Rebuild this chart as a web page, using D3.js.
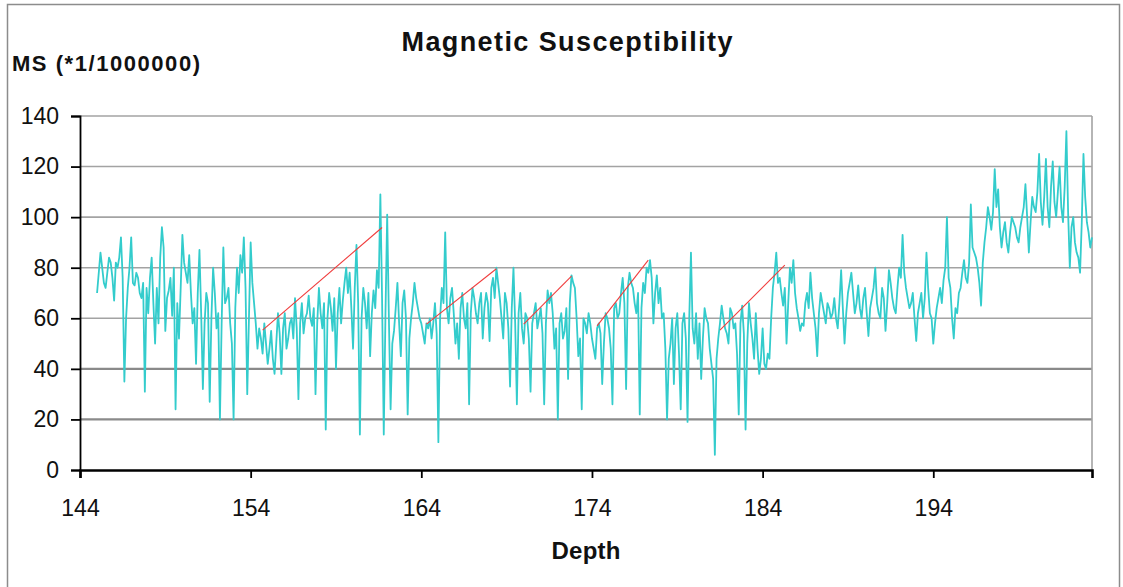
<!DOCTYPE html>
<html>
<head>
<meta charset="utf-8">
<script src="https://cdn.jsdelivr.net/npm/d3@7"></script>
<style>
  html, body { margin: 0; padding: 0; background: #fff; }
  svg { display: block; font-family: "Liberation Sans", Arial, sans-serif; }
</style>
</head>
<body>
<svg id="chart" width="1123" height="587"></svg>
<script>
// Magnetic susceptibility log, sampled every 0.1 depth units from 145.0
const depthStart = 145.0;
const depthStep = 0.1;
const ms = [
  // 145.0 – 154.5
  70,78, 86,80, 74,72, 78,84, 82,76, 67,82, 80,84, 92,76, 35,60, 72,80,
  92,74, 73,78, 76,70, 68,74, 31,72, 62,76, 84,66, 50,72, 58,84, 96,88,
  55,68, 71,76, 61,80, 24,66, 52,72, 93,82, 78,74, 85,70, 58,64, 42,70,
  87,62, 32,58, 70,66, 27,60, 80,70, 56,62, 20,58, 88,66, 68,72, 58,50,
  20,64, 80,70, 85,78, 92,72, 30,60, 90,74, 66,58, 48,56,
  // 154.6 – 164.3
  52,46, 58,50, 42,48, 55,44, 38,50, 62,54, 38,56, 62,48, 52,58, 60,52,
  68,56, 28,58, 66,54, 60,62, 69,60, 57,64, 30,58, 72,62, 56,66, 16,60,
  70,64, 55,68, 40,62, 72,58, 67,74, 80,70, 78,64, 48,72, 89,66, 14,60,
  72,66, 56,70, 45,62, 71,64, 79,72, 109,68, 14,62, 101,60, 24,50, 55,64,
  74,58, 45,66, 71,60, 22,52, 60,66, 74,68, 64,60, 58,54, 50,58,
  // 164.4 – 174.3
  56,60, 52,58, 66,54, 11,60, 72,66, 94,64, 58,68, 72,62, 50,58, 44,64,
  70,60, 56,66, 26,62, 72,68, 62,58, 66,70, 52,64, 70,66, 51,72, 76,68,
  80,74, 68,60, 52,70, 66,56, 33,64, 80,58, 26,62, 70,56, 50,62, 60,52,
  31,58, 62,66, 56,60, 64,54, 26,58, 71,66, 70,62, 48,56, 20,58, 62,52,
  55,64, 36,66, 77,74, 72,60, 45,52, 24,60, 58,54, 62,58, 52,48, 44,56,
  // 174.4 – 184.3
  58,54, 34,50, 62,60, 56,48, 26,64, 66,60, 62,70, 76,66, 32,72, 78,74,
  72,66, 62,70, 22,64, 74,70, 80,78, 83,76, 58,70, 77,66, 72,60, 62,48,
  20,44, 50,60, 34,56, 62,46, 24,58, 62,52, 19,60, 86,56, 50,62, 44,58,
  36,52, 64,60, 58,48, 42,36, 6,44, 52,58, 65,60, 56,54, 50,64, 62,56,
  58,46, 22,58, 65,54, 16,50, 66,58, 52,44, 62,48, 38,44, 56,42, 40,46,
  // 184.4 – 194.3
  44,60, 72,78, 86,74, 76,70, 65,72, 50,66, 80,74, 83,70, 64,60, 55,58,
  57,66, 70,64, 78,68, 62,56, 45,62, 70,66, 62,58, 66,64, 60,62, 68,60,
  56,66, 79,64, 50,62, 70,74, 78,70, 62,66, 73,64, 60,68, 72,62, 53,64,
  68,72, 80,66, 62,60, 72,68, 55,66, 79,74, 68,64, 62,72, 80,76, 93,78,
  72,68, 64,66, 70,60, 51,62, 66,70, 60,68, 86,72, 62,60, 50,58, 64,68,
  // 194.4 – 203.3
  72,66, 75,80, 100,76, 72,60, 52,64, 62,70, 72,78, 83,76, 74,82, 105,88,
  86,84, 80,74, 65,82, 90,96, 104,100, 95,102, 119,104, 111,96, 88,94, 98,90,
  86,94, 100,98, 96,92, 90,96, 100,104, 113,100, 86,98, 108,104, 102,110, 125,106,
  97,108, 123,104, 96,112, 122,106, 100,110, 120,104, 98,112, 134,102, 80,96, 100,90,
  86,84, 78,98, 125,108, 98,94, 88,92
];

// Rising trend segments drawn over the log
const trendStartDepth = [154.7, 164.3, 170.0, 174.3, 181.5];
const trendStartMS    = [55.3, 57.7, 57.7, 57.0, 55.3];
const trendEndDepth   = [161.7, 168.4, 172.8, 177.3, 185.3];
const trendEndMS      = [95.9, 79.6, 76.7, 83.0, 81.0];

const xTicks = [144, 154, 164, 174, 184, 194];
const yTicks = [0, 20, 40, 60, 80, 100, 120, 140];

const titleText = "Magnetic Susceptibility";
const yTitle = "MS (*1/1000000)";
const xTitle = "Depth";

const svg = d3.select("#chart");

const plot = { left: 80, right: 1092, top: 116, bottom: 470 };

const x = d3.scaleLinear().domain([144, 203.3]).range([plot.left, plot.right]);
const y = d3.scaleLinear().domain([0, 140]).range([plot.bottom, plot.top]);

// outer chart frame
svg.append("rect")
  .attr("x", 7.5).attr("y", 4.5)
  .attr("width", 1112).attr("height", 620)
  .attr("fill", "none").attr("stroke", "#8c8c8c").attr("stroke-width", 1.5);

// horizontal gridlines
svg.append("g").selectAll("line")
  .data(yTicks.filter(v => v > 0))
  .join("line")
  .attr("x1", plot.left).attr("x2", plot.right)
  .attr("y1", d => y(d)).attr("y2", d => y(d))
  .attr("stroke", d => (d <= 40 ? "#8a8a8a" : "#a3a3a3"))
  .attr("stroke-width", d => (d <= 40 ? 2.2 : 1.6));

// right border of the plot area
svg.append("line")
  .attr("x1", plot.right).attr("x2", plot.right)
  .attr("y1", plot.top).attr("y2", plot.bottom)
  .attr("stroke", "#a3a3a3").attr("stroke-width", 1.6);

// the log itself
const series = ms.map((v, i) => ({ d: depthStart + i * depthStep, v }));
const line = d3.line().x(p => x(p.d)).y(p => y(p.v));
svg.append("path")
  .datum(series)
  .attr("d", line)
  .attr("fill", "none")
  .attr("stroke", "#33cccc")
  .attr("stroke-width", 1.8)
  .attr("stroke-linejoin", "round");

// trend segments
svg.append("g").selectAll("line")
  .data(trendStartDepth.map((d, i) => ({ d0: d, v0: trendStartMS[i], d1: trendEndDepth[i], v1: trendEndMS[i] })))
  .join("line")
  .attr("x1", s => x(s.d0)).attr("y1", s => y(s.v0))
  .attr("x2", s => x(s.d1)).attr("y2", s => y(s.v1))
  .attr("stroke", "#f03c3c").attr("stroke-width", 1.1);

// y axis
const yAxis = svg.append("g")
  .attr("transform", `translate(${plot.left},0)`)
  .call(d3.axisLeft(y).tickValues(yTicks).tickSize(9).tickPadding(12).tickFormat(d3.format("d")));
yAxis.select(".domain").attr("stroke", "#000").attr("stroke-width", 1.8);
yAxis.selectAll(".tick line").attr("stroke", "#000").attr("stroke-width", 1.8);
yAxis.selectAll(".tick text")
  .attr("font-size", 23).attr("fill", "#111")
  .attr("font-family", "'Liberation Sans', Arial, sans-serif");

// x axis
const xAxis = svg.append("g")
  .attr("transform", `translate(0,${plot.bottom})`)
  .call(d3.axisBottom(x).tickValues(xTicks).tickSize(8).tickPadding(22).tickFormat(d3.format("d")));
xAxis.select(".domain").attr("stroke", "#000").attr("stroke-width", 2.6);
xAxis.selectAll(".tick line").attr("stroke", "#000").attr("stroke-width", 1.8);
xAxis.selectAll(".tick text")
  .attr("font-size", 23).attr("fill", "#111")
  .attr("font-family", "'Liberation Sans', Arial, sans-serif");

// titles
svg.append("text")
  .attr("x", 567).attr("y", 51)
  .attr("text-anchor", "middle")
  .attr("font-size", 27).attr("font-weight", "bold").attr("fill", "#111")
  .attr("textLength", 331).attr("lengthAdjust", "spacing")
  .text(titleText);

svg.append("text")
  .attr("x", 12).attr("y", 71)
  .attr("font-size", 22).attr("font-weight", "bold").attr("fill", "#111")
  .attr("textLength", 188).attr("lengthAdjust", "spacing")
  .text(yTitle);

svg.append("text")
  .attr("x", 586).attr("y", 559)
  .attr("text-anchor", "middle")
  .attr("font-size", 24).attr("font-weight", "bold").attr("fill", "#111")
  .attr("textLength", 69).attr("lengthAdjust", "spacing")
  .text(xTitle);
</script>
</body>
</html>
